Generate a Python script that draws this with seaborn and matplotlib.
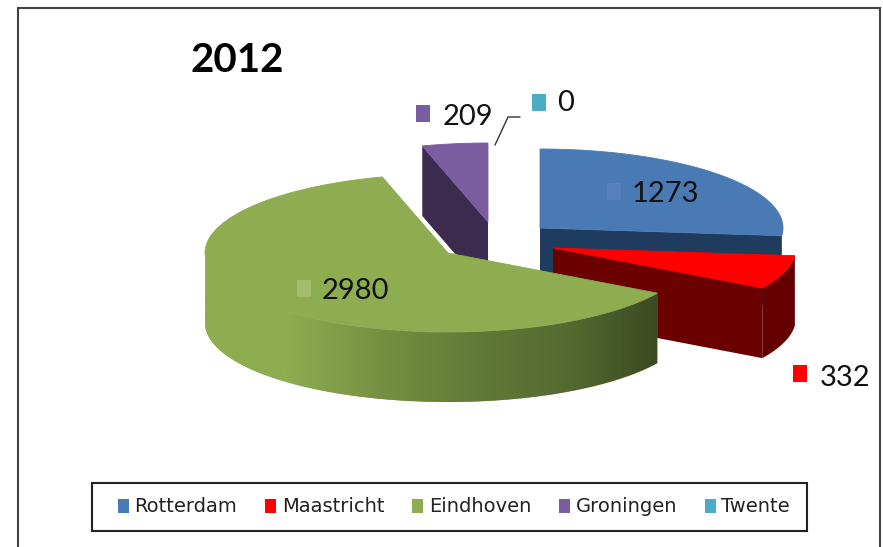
import numpy as np
import matplotlib
matplotlib.use('Agg')
import matplotlib.pyplot as plt
import seaborn as sns
from matplotlib.patches import Polygon, Rectangle, Patch
from matplotlib.colors import LinearSegmentedColormap

cities = ['Rotterdam', 'Maastricht', 'Eindhoven', 'Groningen', 'Twente']
values = [1273, 332, 2980, 209, 0]
title = '2012'

sns.set_theme(style='white')
plt.rcParams['font.family'] = ['Lato', 'DejaVu Sans']

palette = sns.color_palette(['#4a7ab4', '#ff0000', '#8dad50', '#7a5d9f', '#4bacc6'])
dark = ['#1f3b5e', '#6b0000', '#4a5c2a', '#3a2b4f', '#215968']
marker_colors = ['#5582ba', '#ff0000', '#a2bc6c', '#7a5d9f', '#4bacc6']
centres = [(540, 228), (553, 248), (448, 253), (488, 222), (540, 228)]
label_pos = [(665, 194), (845, 378), (355, 291), (468, 117), (566, 103)]
marker_pos = [(614, 191), (800, 373), (304, 288), (423, 113), (539, 102)]
rx, ry, depth = 243, 79, 70

# slice angles, clockwise from 12 o'clock
edges = np.concatenate([[0], np.cumsum(values)]) / sum(values) * 360


def rim(c, a, b, n=120):
    t = np.radians(np.linspace(a, b, n))
    return np.column_stack([c[0] + rx * np.sin(t), c[1] - ry * np.cos(t)])


def lowered(pts):
    return pts + np.array([0, depth])


fig = plt.figure(figsize=(8.83, 5.47), dpi=100, facecolor='white')
ax = fig.add_axes([0, 0, 1, 1])
ax.set_xlim(0, 883)
ax.set_ylim(547, 0)
ax.axis('off')

ax.add_patch(Rectangle((18, 8), 862, 545, fc='white', ec='#444444', lw=1.5, zorder=0))

# back to front: Groningen, Rotterdam, Maastricht, Eindhoven
for z, i in enumerate([3, 0, 1, 2]):
    a, b = edges[i], edges[i + 1]
    c = np.array(centres[i], dtype=float)
    arc = rim(c, a, b)
    base = 1 + z * 5

    if i == 3:
        # cut face on the left side of the slice
        side = np.vstack([arc[0], c, lowered(c[None, :]), lowered(arc[:1])])
        ax.add_patch(Polygon(side, fc=dark[i], ec='none', zorder=base))
    if i == 0:
        side = np.vstack([c, arc[-1], lowered(arc[-1:]), lowered(c[None, :])])
        ax.add_patch(Polygon(side, fc=dark[i], ec='none', zorder=base))
    if i == 1:
        side = np.vstack([c, arc[-1], lowered(arc[-1:]), lowered(c[None, :])])
        ax.add_patch(Polygon(side, fc='#6b0000', ec='none', zorder=base))
        wall = np.vstack([arc, lowered(arc)[::-1]])
        ax.add_patch(Polygon(wall, fc='#640000', ec='none', zorder=base + 1))
    if i == 2:
        front = rim(c, a, 270)
        wall = np.vstack([front, lowered(front)[::-1]])
        clip = Polygon(wall, fc=palette[i], ec='none', zorder=base)
        ax.add_patch(clip)
        cmap = LinearSegmentedColormap.from_list(
            'side', [(0, '#8dad50'), (0.18, '#8dad50'), (0.4, '#748e41'),
                     (0.6, '#627a38'), (0.8, '#556a31'), (1, '#3c4a22')])
        grad = ax.imshow(np.linspace(0, 1, 256)[None, :], cmap=cmap, aspect='auto',
                         extent=(c[0] - rx, arc[0, 0], 420, 170), zorder=base)
        grad.set_clip_path(clip)

    top = np.vstack([c, arc])
    ax.add_patch(Polygon(top, fc=palette[i], ec=palette[i], lw=0.6, zorder=base + 2))

ax.set_xlim(0, 883)
ax.set_ylim(547, 0)

# leader line for Twente
ax.plot([495, 508, 520], [145, 117, 117], color='#333333', lw=1, zorder=40)

for i, v in enumerate(values):
    ax.add_patch(Rectangle((marker_pos[i][0] - 7, marker_pos[i][1] - 8.5), 14, 17,
                           fc=marker_colors[i], ec='none', zorder=41))
    ax.text(label_pos[i][0], label_pos[i][1], str(v), ha='center', va='center',
            fontsize=21, color='#111111', zorder=42)

ax.text(190, 60, title, fontsize=29, fontweight='bold', color='black', va='center', ha='left')

# legend box is drawn separately so the entries can sit further in
ax.add_patch(Rectangle((92, 483), 715, 48, fc='white', ec='#222222', lw=1.5, zorder=45))
handles = [Patch(fc=palette[i], ec='none', label=name) for i, name in enumerate(cities)]
leg = ax.legend(handles=handles, ncol=5, loc='center', mode='expand',
                bbox_to_anchor=(118 / 883, 1 - 531 / 547, 672 / 883, 48 / 547),
                bbox_transform=fig.transFigure, frameon=False,
                handlelength=0.55, handleheight=0.7, handletextpad=0.3,
                columnspacing=0.8, borderpad=0, borderaxespad=0,
                prop={'family': 'DejaVu Sans', 'size': 14})
leg.set_zorder(46)
for t in leg.get_texts():
    t.set_color('#222222')

plt.savefig('out.png', dpi=100)
